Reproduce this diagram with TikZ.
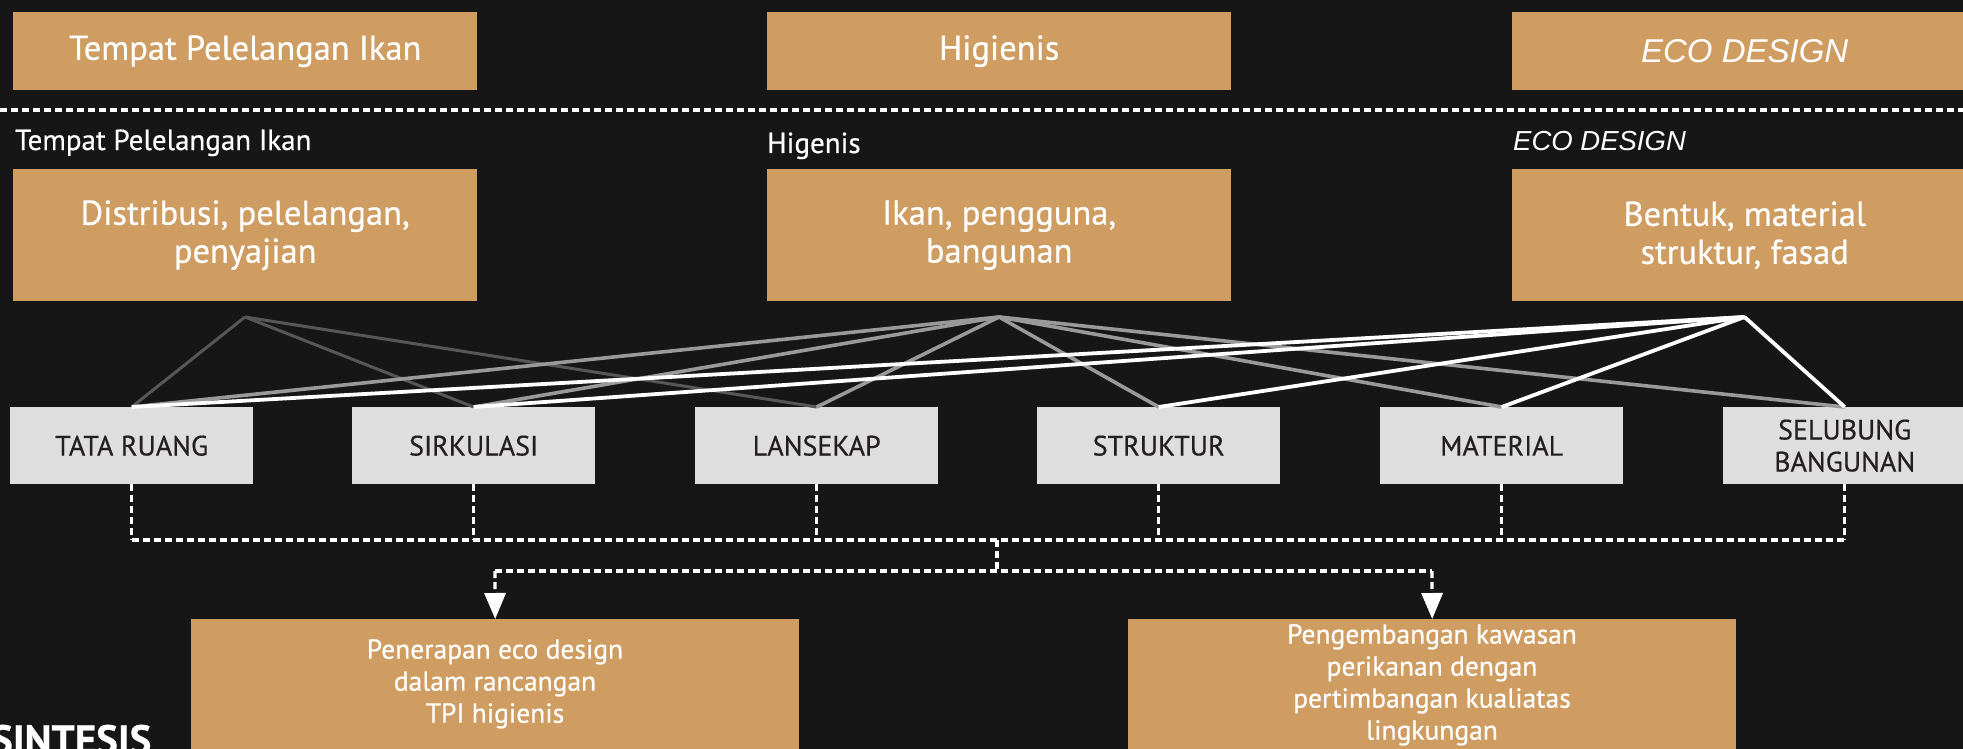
\documentclass[tikz,border=0pt]{standalone}
\usepackage{fontspec}
\setmainfont{PT Sans}[FakeBold=0.5]
\newfontfamily\arialfont{Liberation Sans}
\usetikzlibrary{arrows.meta}
\definecolor{bgc}{HTML}{161616}
\definecolor{tanc}{HTML}{CF9D62}
\definecolor{lgrayc}{HTML}{DEDEDE}
\definecolor{inkc}{HTML}{231F20}
\definecolor{dgrayc}{HTML}{575757}
\definecolor{mgrayc}{HTML}{9A9A9A}
\begin{document}
\begin{tikzpicture}[x=1pt,y=-1pt,
  tanbox/.style={fill=tanc, text=white, inner sep=0pt, anchor=north west, align=center},
  topbox/.style={tanbox, minimum width=464pt, minimum height=78pt, font=\fontsize{34.5}{40}\selectfont},
  midbox/.style={tanbox, minimum width=464pt, minimum height=132pt, font=\fontsize{34.5}{38}\selectfont},
  lowbox/.style={tanbox, minimum width=608pt, minimum height=200pt},
  lowtext/.style={text=white, inner sep=0pt, anchor=north, align=center, font=\fontsize{27.5}{32}\selectfont},
  graybox/.style={fill=lgrayc, text=inkc, inner sep=0pt, anchor=north west, minimum width=243pt, minimum height=77pt, align=center, font=\fontsize{28}{32}\selectfont},
  captxt/.style={text=white, inner sep=0pt, anchor=base west, font=\fontsize{29}{32}\selectfont},
  dshline/.style={white, line width=3.2pt, dash pattern=on 7pt off 4pt},
  darkln/.style={dgrayc, line width=3pt},
  midln/.style={mgrayc, line width=3.6pt},
  whiteln/.style={white, line width=3.8pt},
  arr/.style={-{Triangle[width=21pt,length=26pt]}}
]
\useasboundingbox (0,0) rectangle (1963,749);
\fill[bgc] (0,0) rectangle (1963,749);
\begin{scope}
\clip (0,0) rectangle (1963,749);

% top row
\node[topbox] (t1) at (13,12) {Tempat Pelelangan Ikan};
\node[topbox] (t2) at (767,12) {Higienis};
\node[topbox, minimum width=465pt, font=\arialfont\itshape\fontsize{33}{40}\selectfont] (t3) at (1512,12) {ECO DESIGN};

\draw[dshline] (0,110) -- (1963,110);

% captions
\node[captxt] (c1) at (15,150) {Tempat Pelelangan Ikan};
\node[captxt] (c2) at (767,153) {Higenis};
\node[captxt, font=\arialfont\itshape\fontsize{27.5}{30}\selectfont] (c3) at (1513,150) {ECO DESIGN};

% middle row
\node[midbox] (m1) at (13,169) {Distribusi, pelelangan,\\penyajian};
\node[midbox] (m2) at (767,169) {Ikan, pengguna,\\bangunan};
\node[midbox, minimum width=465pt] (m3) at (1512,169) {Bentuk, material\\struktur, fasad};

\coordinate (a1) at (245,317);
\coordinate (a2) at (999,317);
\coordinate (a3) at (1744.5,317);

% bottom criteria boxes
\node[graybox] (b1) at (10,407) {TATA RUANG};
\node[graybox] (b2) at (352,407) {SIRKULASI};
\node[graybox] (b3) at (695,407) {LANSEKAP};
\node[graybox] (b4) at (1037,407) {STRUKTUR};
\node[graybox] (b5) at (1380,407) {MATERIAL};
\node[graybox] (b6) at (1723,407) {SELUBUNG\\BANGUNAN};

% relation lines
\foreach \b in {b1,b2,b3} \draw[darkln] (a1) -- (\b.north);
\foreach \b in {b1,b2,b3,b4,b5,b6} \draw[midln] (a2) -- (\b.north);
\foreach \b in {b1,b2,b4,b5,b6} \draw[whiteln] (a3) -- (\b.north);

% dashed tree
\coordinate (busL) at (131.5,540);
\coordinate (busR) at (1844.5,540);
\coordinate (busM) at (997,540);
\coordinate (splitM) at (997,571);
\coordinate (splitL) at (495,571);
\coordinate (splitR) at (1432,571);
\foreach \b in {b1,b2,b3,b4,b5,b6} \draw[dshline] (\b.south) -- (\b.south |- busL);
\draw[dshline] (busL) -- (busR);
\draw[dshline] (busM) -- (splitM);
\draw[dshline] (splitL) -- (splitR);

% outcome boxes
\node[lowbox] (oA) at (191,619) {};
\node[lowbox] (oB) at (1128,619) {};
\node[lowtext] (tA) at (495,639) {Penerapan eco design\\dalam rancangan\\TPI higienis};
\node[lowtext] (tB) at (1432,624) {Pengembangan kawasan\\perikanan dengan\\pertimbangan kualiatas\\lingkungan};

\draw[dshline, arr] (splitL) -- (oA.north);
\draw[dshline, arr] (splitR) -- (oB.north);

\node[text=white, inner sep=0pt, anchor=base west, font=\bfseries\fontsize{41}{41}\selectfont] (sint) at (-9,754) {SINTESIS};
\end{scope}
\end{tikzpicture}
\end{document}
